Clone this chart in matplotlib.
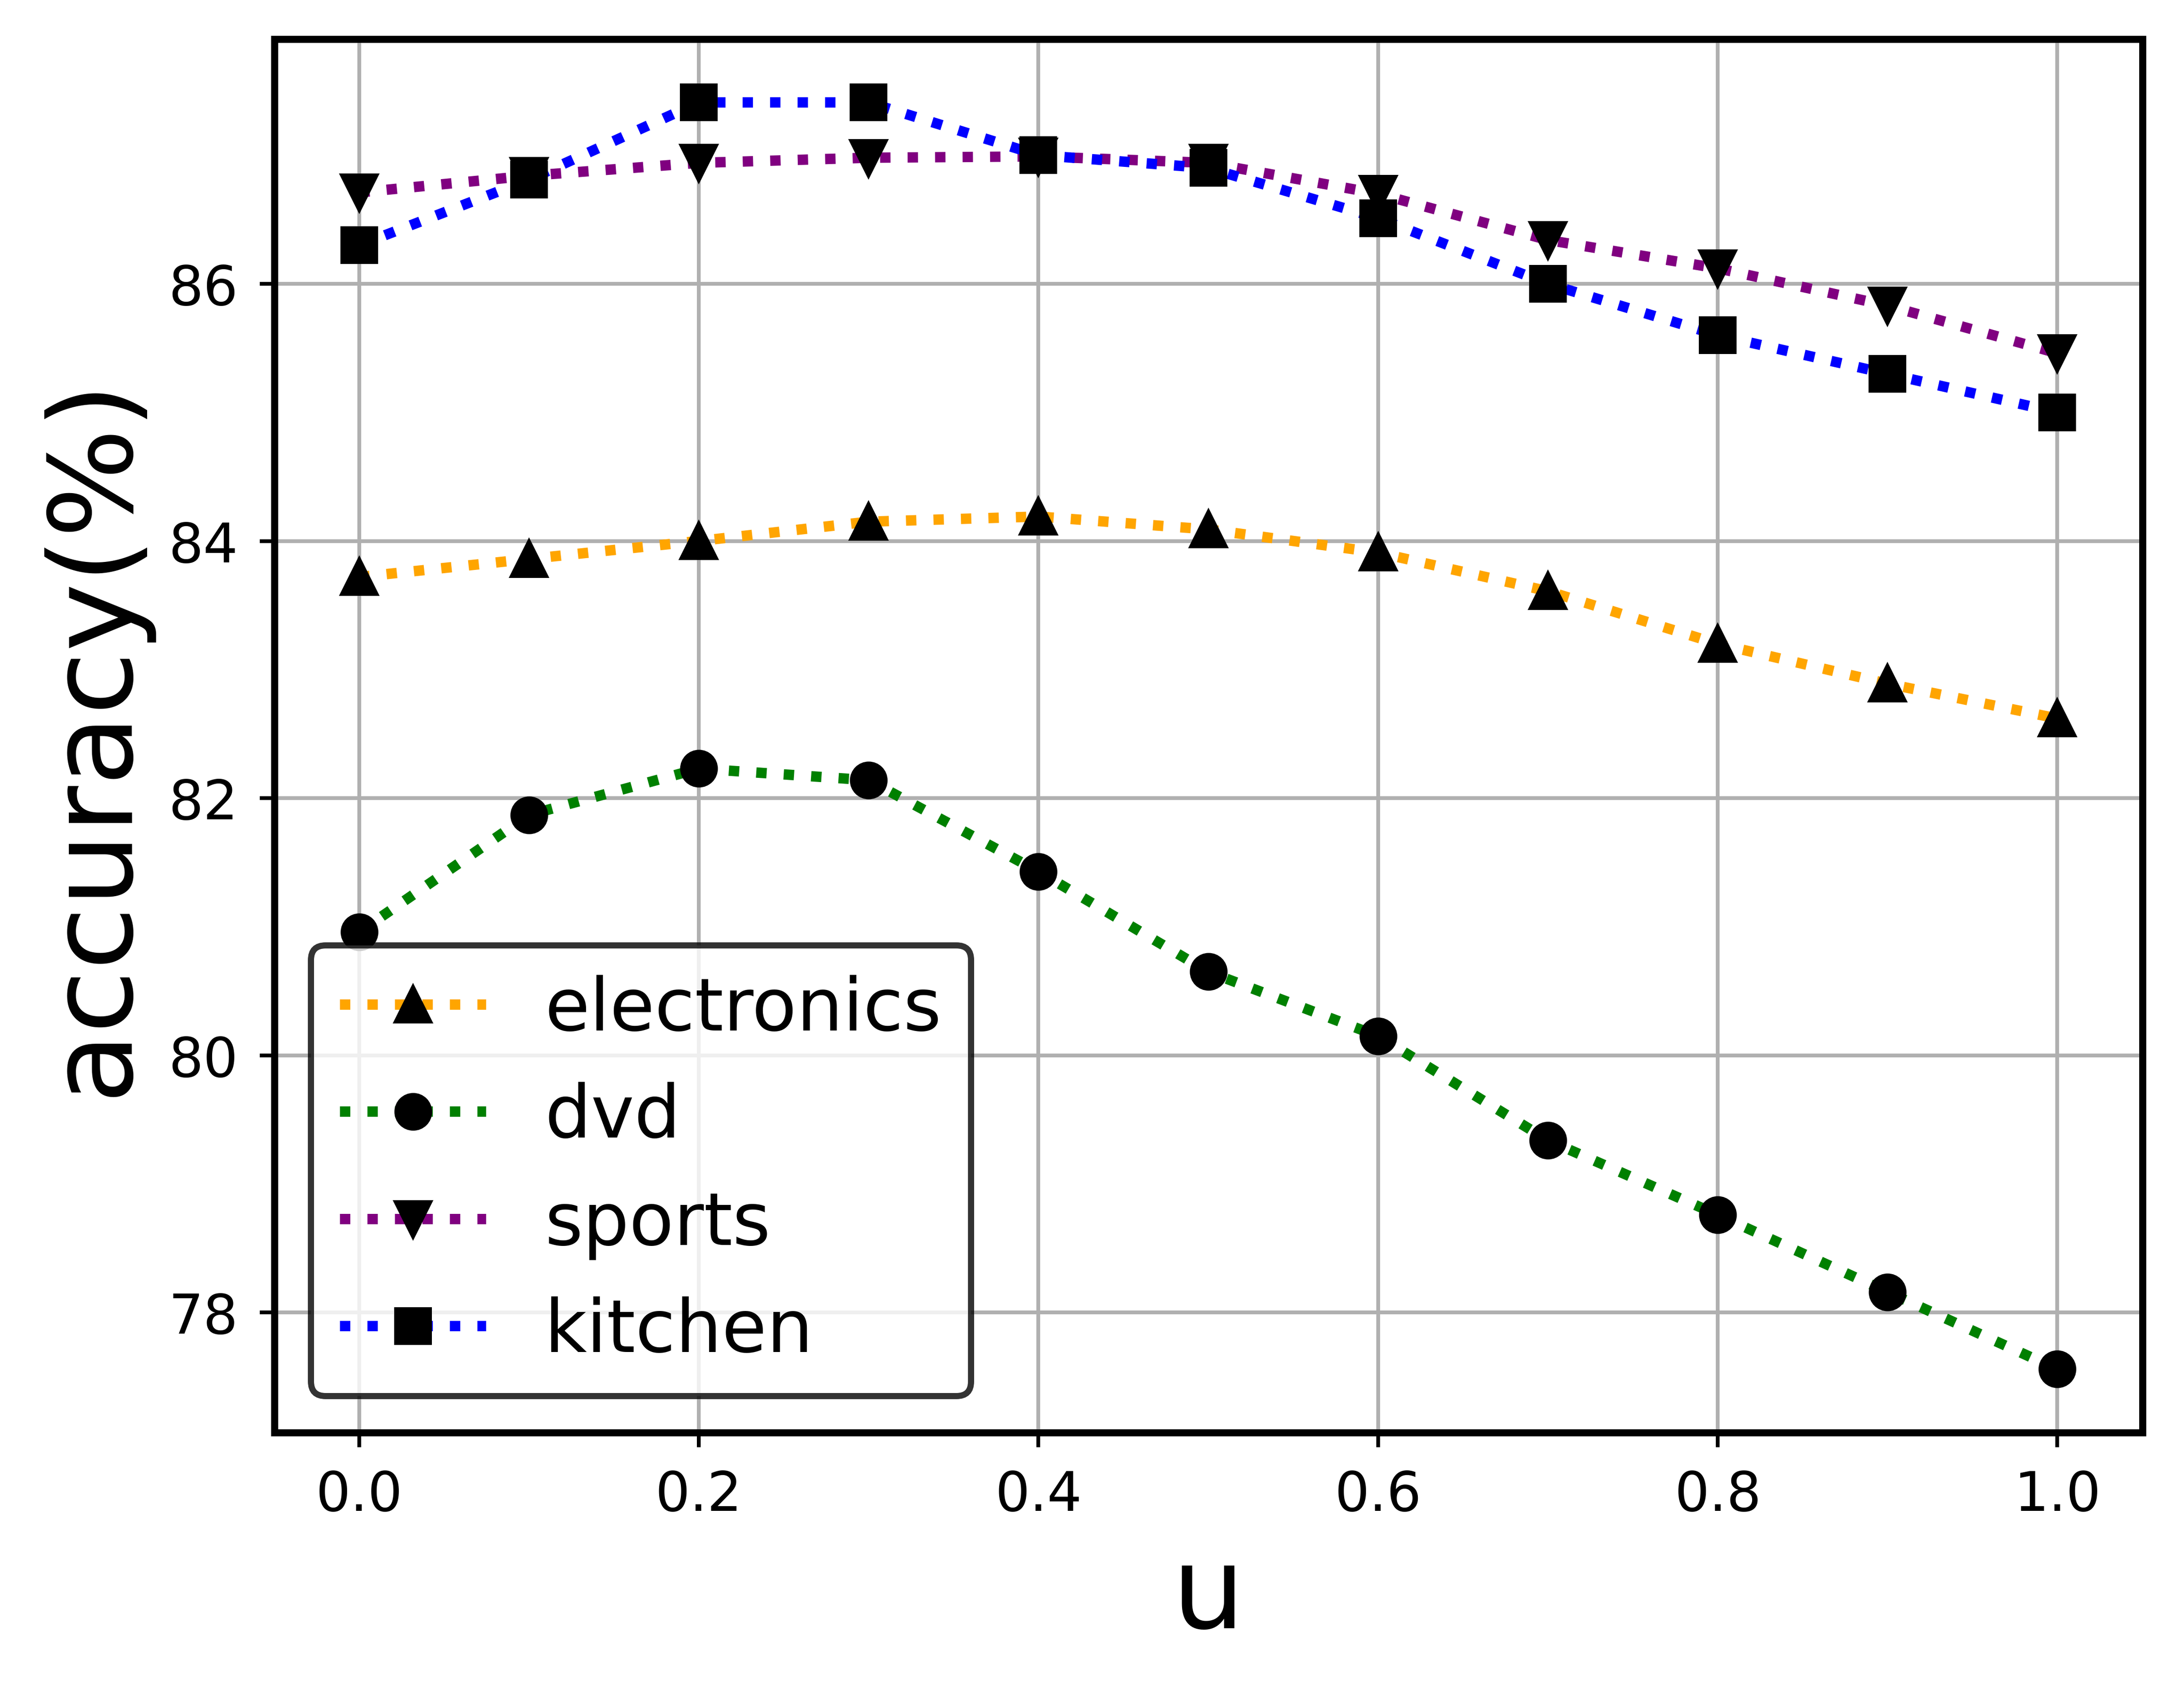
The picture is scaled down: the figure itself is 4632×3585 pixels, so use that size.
import matplotlib
matplotlib.use("Agg")
import matplotlib.pyplot as plt

u = [0.0, 0.1, 0.2, 0.3, 0.4, 0.5, 0.6, 0.7, 0.8, 0.9, 1.0]
electronics = [83.72, 83.86, 84.00, 84.15, 84.19, 84.09, 83.91, 83.61, 83.20, 82.89, 82.62]
dvd = [80.96, 81.87, 82.23, 82.14, 81.43, 80.65, 80.15, 79.34, 78.76, 78.16, 77.56]
sports = [86.71, 86.84, 86.94, 86.98, 86.99, 86.94, 86.70, 86.34, 86.12, 85.83, 85.46]
kitchen = [86.30, 86.81, 87.41, 87.41, 87.00, 86.90, 86.51, 86.00, 85.60, 85.30, 85.00]

series = [
    ("electronics", electronics, "orange", "^"),
    ("dvd", dvd, "green", "o"),
    ("sports", sports, "purple", "v"),
    ("kitchen", kitchen, "blue", "s"),
]

DPI = 720
fig = plt.figure(figsize=(4632 / DPI, 3586 / DPI), dpi=DPI)
ax = fig.add_axes([0.1256, 0.1523, 0.9809 - 0.1256, 0.9766 - 0.1523])

for name, vals, col, mk in series:
    ax.plot(u, vals, linestyle=":", color=col, linewidth=2.2, marker=mk,
            markersize=7, markerfacecolor="black", markeredgecolor="black",
            label=name)

ax.grid(True, color="#b0b0b0", linewidth=0.8)
ax.set_axisbelow(True)
for sp in ax.spines.values():
    sp.set_linewidth(1.5)
ax.tick_params(labelsize=11.6, length=3.1, pad=4.6)
ax.set_xticks([0.0, 0.2, 0.4, 0.6, 0.8, 1.0])
ax.set_yticks([78, 80, 82, 84, 86])
ax.set_xlabel("u", fontsize=24.3)
ax.set_ylabel("accuracy(%)", fontsize=24.5)
leg = ax.legend(loc="lower left", fontsize=15.5, numpoints=1, edgecolor="black",
                fancybox=True)
leg.get_frame().set_linewidth(1.3)

fig.savefig("out.png", dpi=DPI)
